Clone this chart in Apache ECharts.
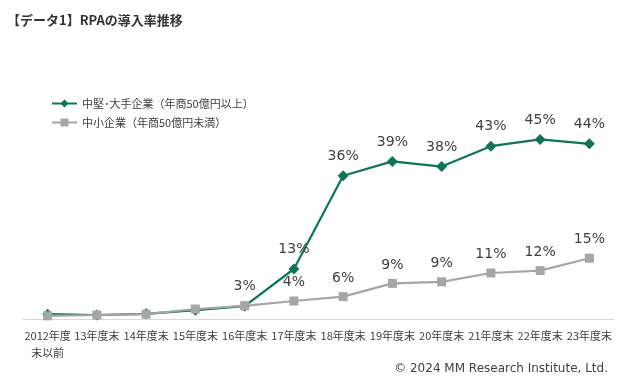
<!DOCTYPE html>
<html><head><meta charset="utf-8">
<script src="https://cdn.jsdelivr.net/npm/echarts@6/dist/echarts.min.js"></script>
<style>html,body{margin:0;padding:0;background:#fff}#c{width:624px;height:383px}</style>
</head><body><div id="c"></div>
<script>
const categories = ['2012年度\n末以前','13年度末','14年度末','15年度末','16年度末','17年度末','18年度末','19年度末','20年度末','21年度末','22年度末','23年度末'];
const largeName = '中堅･大手企業（年商50億円以上）';
const smallName = '中小企業（年商50億円未満）';
const largeValues = [1.2, 1.0, 1.3, 2.2, 3.2, 12.5, 35.8, 39.4, 38.1, 43.2, 44.9, 43.8];
const smallValues = [0.8, 1.0, 1.2, 2.5, 3.3, 4.5, 5.6, 8.9, 9.3, 11.5, 12.1, 15.2];
const largeLabels = ['', '', '', '', '3%', '13%', '36%', '39%', '38%', '43%', '45%', '44%'];
const smallLabels = ['', '', '', '', '', '4%', '6%', '9%', '9%', '11%', '12%', '15%'];

const GREEN = '#0e7457', GREY = '#a6a6a6', TXT = '#404040';
const chart = echarts.init(document.getElementById('c'));
const labelStyle = (labels) => ({
  show: true, position: 'top', distance: 7,
  fontFamily: 'DejaVu Sans', fontSize: 14, color: TXT,
  formatter: p => labels[p.dataIndex]
});
chart.setOption({
  animation: false,
  title: [{
    text: '【データ1】RPAの導入率推移', left: 2, top: 9,
    textStyle: {fontFamily: 'Noto Sans CJK JP', fontSize: 13, fontWeight: 'bold', color: '#333'}
  }, {
    text: '© 2024 MM Research Institute, Ltd.', right: 11, top: 358,
    textStyle: {fontFamily: 'DejaVu Sans', fontSize: 12, fontWeight: 'normal', color: TXT}
  }],
  legend: {
    orient: 'vertical', left: 46, top: 93, itemGap: 8, itemWidth: 25, itemHeight: 10,
    textStyle: {fontFamily: 'Noto Sans CJK JP', fontSize: 11, color: TXT},
    data: [largeName, smallName]
  },
  grid: {left: 23, right: 10, top: 119, bottom: 64, containLabel: false},
  xAxis: {
    type: 'category', data: categories, boundaryGap: true,
    axisLine: {lineStyle: {color: '#d9d9d9', width: 1}},
    axisTick: {show: false},
    axisLabel: {interval: 0, fontFamily: 'Noto Sans CJK JP', fontSize: 11, color: TXT, margin: 8, lineHeight: 17}
  },
  yAxis: {type: 'value', min: 0, max: 50, show: false, splitLine: {show: false}},
  series: [{
    name: smallName, type: 'line', data: smallValues, symbol: 'rect', symbolSize: 9,
    lineStyle: {color: GREY, width: 2.2}, itemStyle: {color: GREY},
    label: labelStyle(smallLabels), z: 2
  }, {
    name: largeName, type: 'line', data: largeValues, symbol: 'diamond', symbolSize: 11,
    lineStyle: {color: GREEN, width: 2.2}, itemStyle: {color: GREEN},
    label: labelStyle(largeLabels), z: 1
  }]
});
</script></body></html>
